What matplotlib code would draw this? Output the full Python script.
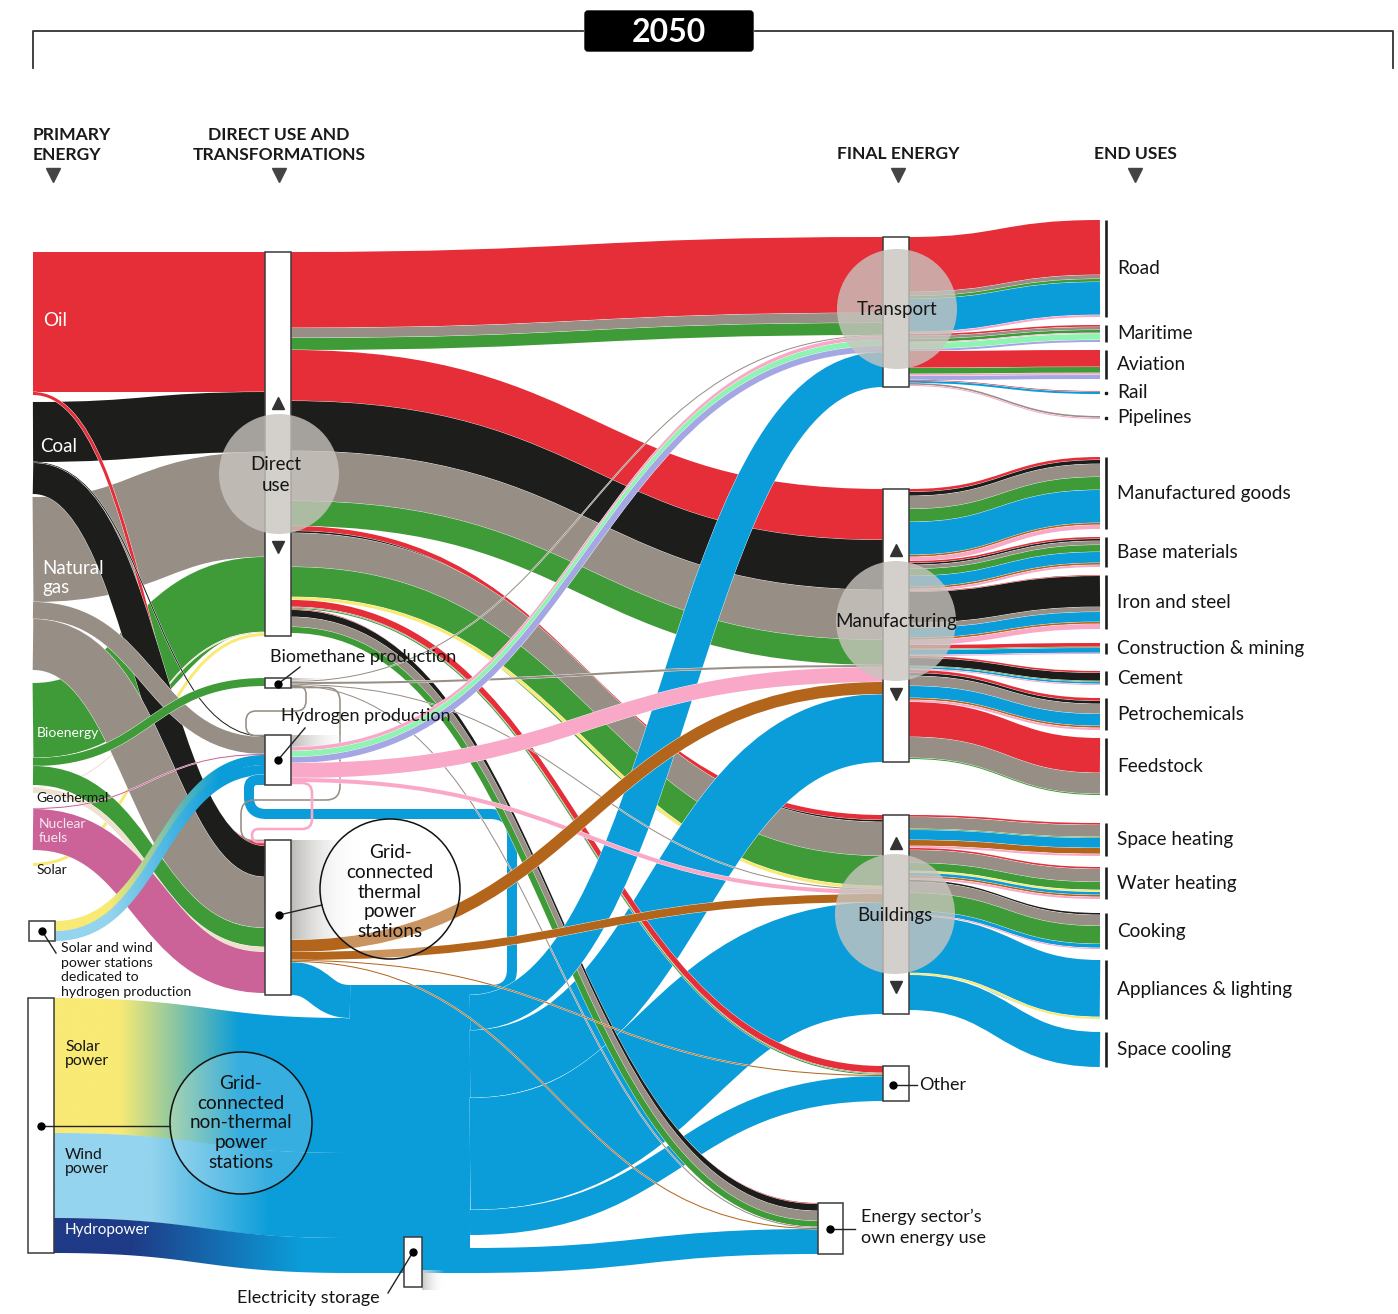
import numpy as np
import matplotlib
matplotlib.use("Agg")
import matplotlib.pyplot as plt
from matplotlib.path import Path
from matplotlib.patches import PathPatch, Polygon, Circle, Rectangle, FancyBboxPatch
from matplotlib.colors import to_rgb
from collections import defaultdict

plt.rcParams['font.family'] = ['Lato', 'DejaVu Sans']

# ---------------- data (band widths in chart units) ----------------
primary_names = ["Oil", "Coal", "Natural gas", "Bioenergy", "Geothermal", "Nuclear fuels", "Solar"]

primary_flows = [
    ("Oil", "Direct use", "oil", 140),
    ("Oil", "Thermal", "oil", 3),
    ("Coal", "Direct use", "coal", 60),
    ("Coal", "Hydrogen", "coal", 1),
    ("Coal", "Thermal", "coal", 31),
    ("Natural gas", "Direct use", "gas", 105),
    ("Natural gas", "Hydrogen", "gas", 17),
    ("Natural gas", "Thermal", "gas", 51),
    ("Bioenergy", "Direct use", "bio", 75),
    ("Bioenergy", "Biomethane", "bio", 8),
    ("Bioenergy", "Thermal", "bio", 19),
    ("Geothermal", "Direct use", "geo", 1),
    ("Geothermal", "Thermal", "geo", 5),
    ("Nuclear fuels", "Hydrogen", "nuclear", 1),
    ("Nuclear fuels", "Thermal", "nuclear", 41),
    ("Solar", "Direct use", "solar", 3),
    ("Dedicated", "Hydrogen", "solar", 10),
    ("Dedicated", "Hydrogen", "wind", 10),
]

direct_flows = [
    ("Direct use", "Transport", "oil", 76),
    ("Direct use", "Transport", "gas", 10),
    ("Direct use", "Transport", "bio", 12),
    ("Direct use", "Manufacturing", "oil", 51),
    ("Direct use", "Manufacturing", "coal", 50),
    ("Direct use", "Manufacturing", "gas", 50),
    ("Direct use", "Manufacturing", "bio", 25),
    ("Direct use", "Buildings", "oil", 5),
    ("Direct use", "Buildings", "coal", 2),
    ("Direct use", "Buildings", "gas", 34),
    ("Direct use", "Buildings", "bio", 30),
    ("Direct use", "Buildings", "solar", 3),
    ("Direct use", "Other", "oil", 7),
    ("Direct use", "Other", "gas", 1),
    ("Direct use", "Other", "bio", 1),
    ("Direct use", "Energy sector", "oil", 1),
    ("Direct use", "Energy sector", "coal", 7),
    ("Direct use", "Energy sector", "gas", 10),
    ("Direct use", "Energy sector", "bio", 6),
]

conversion_flows = [
    ("Biomethane", None, "loss", 3),
    ("Biomethane", "Transport", "gas", 1),
    ("Biomethane", "Manufacturing", "gas", 2),
    ("Biomethane", "Buildings", "gas", 1),
    ("Biomethane", "Energy sector", "gas", 1),
    ("Biomethane", "Hydrogen", "gas", 1),
    ("Biomethane", "Thermal", "gas", 1),
    ("Hydrogen", None, "loss", 12),
    ("Hydrogen", "Transport", "h2", 4),
    ("Hydrogen", "Transport", "nh3", 6),
    ("Hydrogen", "Transport", "efuel", 6),
    ("Hydrogen", "Manufacturing", "h2", 15),
    ("Hydrogen", "Buildings", "h2", 4),
    ("Hydrogen", "Thermal", "h2", 2),
    ("Thermal", None, "loss", 100),
    ("Thermal", "Manufacturing", "heat", 12),
    ("Thermal", "Buildings", "heat", 8),
    ("Thermal", "Other", "heat", 1),
    ("Thermal", "Energy sector", "heat", 1),
    ("Thermal", "Electricity", "elec", 33),
]

power_flows = [
    ("Non-thermal", "Electricity", "solar", 135),
    ("Non-thermal", "Electricity", "wind", 85),
    ("Non-thermal", "Electricity", "hydro", 35),
]

grid_flows = [
    ("Electricity", "Hydrogen", "elec", 10),
    ("Electricity", "Transport", "elec", 35),
    ("Electricity", "Manufacturing", "elec", 68),
    ("Electricity", "Buildings", "elec", 112),
    ("Electricity", "Other", "elec", 25),
    ("Electricity", "Storage", "elec", 13),
    ("Electricity", "Energy sector", "elec", 25),
]

transport_uses = ["Road", "Maritime", "Aviation", "Rail", "Pipelines"]
transport_mix = [
    [("oil", 55), ("gas", 4), ("bio", 3), ("elec", 33), ("h2", 2)],
    [("oil", 2), ("gas", 3), ("bio", 3), ("h2", 1), ("nh3", 6), ("efuel", 2)],
    [("oil", 17), ("bio", 6), ("h2", 2), ("efuel", 4)],
    [("oil", 1), ("elec", 2)],
    [("gas", 2), ("h2", 1)],
]
manufacturing_uses = ["Manufactured goods", "Base materials", "Iron and steel",
                      "Construction & mining", "Cement", "Petrochemicals", "Feedstock"]
manufacturing_mix = [
    [("oil", 3), ("coal", 4), ("gas", 13), ("bio", 13), ("elec", 33), ("heat", 2), ("h2", 4)],
    [("oil", 2), ("coal", 2), ("gas", 4), ("bio", 7), ("elec", 11), ("heat", 2), ("h2", 2)],
    [("oil", 1), ("coal", 31), ("gas", 5), ("elec", 10), ("heat", 2), ("h2", 5)],
    [("oil", 4), ("bio", 1), ("elec", 5), ("h2", 1)],
    [("oil", 2), ("coal", 8), ("bio", 1), ("elec", 2), ("h2", 1)],
    [("oil", 3), ("coal", 3), ("gas", 10), ("elec", 12), ("heat", 2), ("h2", 2)],
    [("oil", 35), ("gas", 21), ("bio", 1)],
]
buildings_uses = ["Space heating", "Water heating", "Cooking", "Appliances & lighting", "Space cooling"]
buildings_mix = [
    [("oil", 2), ("gas", 12), ("bio", 1), ("elec", 10), ("heat", 6), ("h2", 2)],
    [("oil", 2), ("gas", 13), ("bio", 8), ("solar", 2), ("elec", 3), ("heat", 2), ("h2", 2)],
    [("coal", 2), ("gas", 11), ("bio", 18), ("elec", 4), ("h2", 1)],
    [("elec", 57), ("solar", 2)],
    [("elec", 35)],
]

# ---------------- styles and layout ----------------
COL = {"oil": "#e52e38", "coal": "#1d1d1b", "gas": "#978e85", "bio": "#3f9b38",
       "elec": "#0b9dd9", "heat": "#b3661b", "h2": "#f9a8c8", "nh3": "#8ff4b1",
       "efuel": "#a4a7e4", "solar": "#f8ea74", "geo": "#eee1cf", "nuclear": "#cb6399",
       "wind": "#95d4ee", "hydro": "#1f3a86"}

NODE_X = {n: (33, 33) for n in primary_names}
NODE_X.update({"Dedicated": (29, 55), "Non-thermal": (28, 54),
               "Direct use": (265, 291), "Biomethane": (265, 291), "Hydrogen": (265, 291),
               "Thermal": (265, 291), "Electricity": (350, 470), "Storage": (404, 422),
               "Transport": (883, 909), "Manufacturing": (883, 909), "Buildings": (883, 909),
               "Other": (883, 909), "Energy sector": (818, 843)})
NODE_Y = {"Oil": 252, "Coal": 402, "Natural gas": 497, "Bioenergy": 683, "Geothermal": 787,
          "Nuclear fuels": 808, "Solar": 863, "Dedicated": 921, "Non-thermal": 998,
          "Direct use": 252, "Biomethane": 678, "Hydrogen": 735, "Thermal": 840,
          "Electricity": 985, "Storage": 1237, "Transport": 237, "Manufacturing": 489,
          "Buildings": 815, "Other": 1066, "Energy sector": 1203}
END_Y = {"Road": 220, "Maritime": 325, "Aviation": 350, "Rail": 391, "Pipelines": 416,
         "Manufactured goods": 457, "Base materials": 537, "Iron and steel": 575,
         "Construction & mining": 643, "Cement": 671, "Petrochemicals": 698, "Feedstock": 738,
         "Space heating": 823, "Water heating": 867, "Cooking": 913,
         "Appliances & lighting": 960, "Space cooling": 1032}
for u, y in END_Y.items():
    NODE_X[u] = (1100, 1100)
    NODE_Y[u] = y

FIRST_AT_TARGET = {("Hydrogen", "Thermal"), ("Biomethane", "Thermal"), ("Biomethane", "Hydrogen")}
HIDDEN = {("Electricity", "Storage")}
# loop routing: (x of outgoing vertical, y of return run, x of incoming vertical, corner radius)
LOOPS = {("Electricity", "Hydrogen"): (512, 814, 249, 22),
         ("Hydrogen", "Thermal"): (312, 829, 252, 10),
         ("Biomethane", "Hydrogen"): (306, 711, 246, 10),
         ("Biomethane", "Thermal"): (340, 800, 241, 14)}
GRADIENT_X = {("Non-thermal", "solar"): (120, 240), ("Non-thermal", "wind"): (150, 270),
              ("Non-thermal", "hydro"): (130, 300), ("Dedicated", "solar"): (110, 220),
              ("Dedicated", "wind"): (110, 220)}
LOSS_LEN = {"Thermal": 70, "Hydrogen": 60, "Biomethane": 45}

W, H = 1398, 1314
PX = 72.0 / 100

end_flows = []
for src, uses, mixes in [("Transport", transport_uses, transport_mix),
                         ("Manufacturing", manufacturing_uses, manufacturing_mix),
                         ("Buildings", buildings_uses, buildings_mix)]:
    for u, mix in zip(uses, mixes):
        for c, v in mix:
            end_flows.append((src, u, c, v))

flows = primary_flows + direct_flows + conversion_flows + power_flows + grid_flows + end_flows

# ---------------- stacking ----------------
out_pos, in_pos = defaultdict(float), defaultdict(float)
src_y, dst_y = {}, {}
for i, (s, d, c, v) in enumerate(flows):
    src_y[i] = NODE_Y[s] + out_pos[s]
    out_pos[s] += v
order = [i for i, f in enumerate(flows) if (f[0], f[1]) in FIRST_AT_TARGET]
order += [i for i, f in enumerate(flows) if (f[0], f[1]) not in FIRST_AT_TARGET]
for i in order:
    s, d, c, v = flows[i]
    if d is None:
        continue
    dst_y[i] = NODE_Y[d] + in_pos[d]
    in_pos[d] += v


def node_h(n):
    return max(in_pos[n], out_pos[n])


def layer(s, d):
    if s in primary_names:
        return 1 if d == "Direct use" else 2
    if s in ("Dedicated", "Non-thermal"):
        return 2
    if s == "Direct use":
        return 3 if d in ("Transport", "Manufacturing", "Buildings") else 5
    if s == "Electricity":
        return 6 if d == "Transport" else 4
    if s == "Thermal" and d == "Electricity":
        return 4
    if s in ("Hydrogen", "Biomethane", "Thermal"):
        return 7
    return 8


fig = plt.figure(figsize=(W / 100, H / 100), dpi=100)
ax = fig.add_axes([0, 0, 1, 1])
ax.set_xlim(0, W)
ax.set_ylim(H, 0)
ax.axis('off')


def bez_path(x0, y0, x1, y1):
    dx = (x1 - x0) * 0.5
    return Path([(x0, y0), (x0 + dx, y0), (x1 - dx, y1), (x1, y1)],
                [Path.MOVETO, Path.CURVE4, Path.CURVE4, Path.CURVE4])


def bez_band(x0, y0, x1, y1, w, n=120):
    t = np.linspace(0, 1, n)[:, None]
    dx = (x1 - x0) * 0.5
    p0, p1 = np.array([x0, y0]), np.array([x0 + dx, y0])
    p2, p3 = np.array([x1 - dx, y1]), np.array([x1, y1])
    pts = (1 - t) ** 3 * p0 + 3 * (1 - t) ** 2 * t * p1 + 3 * (1 - t) * t ** 2 * p2 + t ** 3 * p3
    dv = 3 * (1 - t) ** 2 * (p1 - p0) + 6 * (1 - t) * t * (p2 - p1) + 3 * t ** 2 * (p3 - p2)
    dv = dv / np.linalg.norm(dv, axis=1)[:, None]
    nrm = np.column_stack([-dv[:, 1], dv[:, 0]])
    return np.vstack([pts + nrm * w / 2, (pts - nrm * w / 2)[::-1]])


def stroke(path, w, color, z, outline=True):
    if outline:
        ax.add_patch(PathPatch(path, fill=False, lw=(w + 0.7) * PX, ec='white',
                               capstyle='butt', joinstyle='round', zorder=z))
    ax.add_patch(PathPatch(path, fill=False, lw=w * PX, ec=color,
                           capstyle='butt', joinstyle='round', zorder=z))


def gradient_fill(poly, xa, xb, c0, c1, z, a0=1.0, a1=1.0):
    patch = Polygon(poly, closed=True, fc='none', ec='none', zorder=z)
    ax.add_patch(patch)
    xmin, ymin = poly.min(axis=0)
    xmax, ymax = poly.max(axis=0)
    xs = np.linspace(xmin, xmax, 400)
    f = np.clip((xs - xa) / (xb - xa), 0, 1)[:, None]
    rgb = (1 - f) * np.array(to_rgb(c0)) + f * np.array(to_rgb(c1))
    alpha = (1 - f) * a0 + f * a1
    img = np.concatenate([rgb, alpha], axis=1)[None, :, :]
    im = ax.imshow(img, extent=(xmin, xmax, ymax, ymin), aspect='auto',
                   interpolation='bilinear', zorder=z)
    im.set_clip_path(patch)


def rounded(pts, r):
    pts = [np.array(p, float) for p in pts]
    verts, codes = [pts[0]], [Path.MOVETO]
    for a, p, b in zip(pts[:-2], pts[1:-1], pts[2:]):
        l1, l2 = np.linalg.norm(p - a), np.linalg.norm(b - p)
        rr = min(r, l1 / 2, l2 / 2)
        verts += [p - (p - a) / l1 * rr, p, p + (b - p) / l2 * rr]
        codes += [Path.LINETO, Path.CURVE3, Path.CURVE3]
    verts.append(pts[-1])
    codes.append(Path.LINETO)
    return Path(verts, codes)


# electricity pool
ax.add_patch(Rectangle((NODE_X["Electricity"][0], NODE_Y["Electricity"]),
                       NODE_X["Electricity"][1] - NODE_X["Electricity"][0],
                       node_h("Electricity"), fc=COL["elec"], ec='none', zorder=4))

for i, (s, d, c, v) in enumerate(flows):
    if (s, d) in HIDDEN:
        continue
    x0 = NODE_X[s][1]
    y0 = src_y[i] + v / 2
    if d is None:
        L = LOSS_LEN[s]
        poly = np.array([(x0, src_y[i]), (x0 + L, src_y[i]), (x0 + L, src_y[i] + v), (x0, src_y[i] + v)])
        gradient_fill(poly, x0, x0 + L, "#bcbab7", "#ffffff", 7, 1.0, 0.0)
        continue
    x1 = NODE_X[d][0]
    y1 = dst_y[i] + v / 2
    z = layer(s, d)
    if (s, d) in LOOPS:
        xo, ym, xb, rad = LOOPS[(s, d)]
        p = rounded([(x0, y0), (xo, y0), (xo, ym), (xb, ym), (xb, y1), (x1, y1)], rad)
        stroke(p, v if v > 3 else v + 0.6, COL[c], z, outline=v > 3)
        continue
    if (s, c) in GRADIENT_X:
        xa, xb = GRADIENT_X[(s, c)]
        gradient_fill(bez_band(x0, y0, x1, y1, v), xa, xb, COL[c], COL["elec"], z)
        continue
    stroke(bez_path(x0, y0, x1, y1), v, COL[c], z)

# ---------------- node boxes ----------------
BOX_EC = "#3a3a3a"
for n in ["Direct use", "Biomethane", "Hydrogen", "Thermal", "Dedicated", "Non-thermal",
          "Transport", "Manufacturing", "Buildings", "Other", "Energy sector"]:
    xl, xr = NODE_X[n]
    ax.add_patch(Rectangle((xl, NODE_Y[n]), xr - xl, node_h(n), fc='white', ec=BOX_EC,
                           lw=1.1, zorder=10))
ax.add_patch(Rectangle((NODE_X["Storage"][0], NODE_Y["Storage"]), 18, 50, fc='white',
                       ec=BOX_EC, lw=1.1, zorder=10))
gradient_fill(np.array([(422, 1270), (445, 1270), (445, 1290), (422, 1290)]), 422, 445,
              "#c8c8c8", "#ffffff", 9, 1.0, 0.0)

# triangles inside the big boxes
for n, (ya, yb) in {"Direct use": (403, 547), "Manufacturing": (550, 694),
                    "Buildings": (843, 987)}.items():
    xc = sum(NODE_X[n]) / 2
    ax.plot([xc], [ya], marker='^', ms=9, color='#333333', zorder=10.5)
    ax.plot([xc], [yb], marker='v', ms=9, color='#333333', zorder=10.5)

# translucent hub circles
for n, (cx, cy) in {"Direct use": (279, 474), "Transport": (897, 309),
                    "Manufacturing": (896, 621), "Buildings": (895, 914)}.items():
    ax.add_patch(Circle((cx, cy), 60, fc='#c8c5bf', ec='none', alpha=0.8, zorder=11))
    label = "Direct\nuse" if n == "Direct use" else n
    ax.text(cx - (3 if n == "Direct use" else 0), cy + 1, label, ha='center', va='center',
            fontsize=13.5, color='#151515', linespacing=1.22, zorder=12)

# outlined power station circles
ax.add_patch(Circle((390, 889), 70, fc=(1, 1, 1, 0.3), ec='#111111', lw=1.1, zorder=11))
ax.text(390, 892, "Grid-\nconnected\nthermal\npower\nstations", ha='center', va='center',
        fontsize=13.6, linespacing=1.2, color='#111111', zorder=12)
ax.add_patch(Circle((241, 1123), 71, fc=(1, 1, 1, 0.18), ec='#111111', lw=1.1, zorder=11))
ax.text(241, 1123, "Grid-\nconnected\nnon-thermal\npower\nstations", ha='center',
        va='center', fontsize=13.6, linespacing=1.2, color='#111111', zorder=12)

# dots and leader lines
for (dx, dy), (lx, ly) in [((278, 684), (300, 667)), ((278, 760), (305, 728)),
                           ((279, 915), (322, 905)), ((42, 931), (56, 953)),
                           ((41, 1126), (170, 1126)), ((413, 1252), (388, 1293)),
                           ((893, 1085), (917, 1085)), ((830, 1229), (855, 1229))]:
    ax.plot([dx, lx], [dy, ly], color='#222222', lw=1, zorder=12)
    ax.plot([dx], [dy], marker='o', ms=5, color='black', zorder=12.5)

# ---------------- end use brackets and labels ----------------
for u, y in END_Y.items():
    h = in_pos[u]
    if h > 4:
        ax.plot([1106, 1106], [y, y + h], color='#1a1a1a', lw=2.6 * PX, solid_capstyle='butt', zorder=10)
    else:
        ax.plot([1106], [y + h / 2], marker='s', ms=2, color='#1a1a1a', zorder=10)
    ax.text(1117, y + h / 2, u, ha='left', va='center', fontsize=13.7, color='#151515', zorder=12)

# ---------------- headers ----------------
ax.plot([33, 33, 583], [68, 31, 31], color='#333333', lw=1.3, zorder=1)
ax.plot([755, 1393, 1393], [31, 31, 68], color='#333333', lw=1.3, zorder=1)
ax.add_patch(FancyBboxPatch((585, 11), 168, 40, boxstyle="round,pad=0,rounding_size=3",
                            fc='black', ec='black', zorder=12))
ax.text(669, 32, "2050", ha='center', va='center', fontsize=23, fontweight='bold',
        color='white', zorder=13)

hdr = dict(fontsize=12.6, fontweight='bold', color='#1a1a1a', linespacing=1.25, va='center')
ax.text(33, 145, "PRIMARY\nENERGY", ha='left', **hdr)
ax.text(279, 145, "DIRECT USE AND\nTRANSFORMATIONS", ha='center', **hdr)
ax.text(898, 154, "FINAL ENERGY", ha='center', **hdr)
ax.text(1135, 154, "END USES", ha='center', **hdr)
for x in [53, 279, 898, 1135]:
    ax.plot([x], [175], marker='v', ms=10, color='#444444', zorder=12)

# ---------------- primary / node labels ----------------
ax.text(43, 320, "Oil", color='white', fontsize=13.5, va='center', zorder=12)
ax.text(40, 447, "Coal", color='white', fontsize=13.5, va='center', zorder=12)
ax.text(42, 578, "Natural\ngas", color='white', fontsize=13.5, va='center',
        linespacing=1.15, zorder=12)
ax.text(37, 733, "Bioenergy", color='white', fontsize=10, va='center', zorder=12)
ax.text(36, 798, "Geothermal", color='#151515', fontsize=10, va='center', zorder=12)
ax.text(39, 831, "Nuclear\nfuels", color='#f6e6ef', fontsize=10, va='center',
        linespacing=1.3, zorder=12)
ax.text(37, 870, "Solar", color='#151515', fontsize=10, va='center', zorder=12)
ax.text(61, 970, "Solar and wind\npower stations\ndedicated to\nhydrogen production",
        color='#151515', fontsize=10.2, va='center', linespacing=1.28, zorder=12)
ax.text(65, 1054, "Solar\npower", color='#151515', fontsize=11.3, va='center',
        linespacing=1.05, zorder=12)
ax.text(65, 1162, "Wind\npower", color='#151515', fontsize=11.3, va='center',
        linespacing=1.05, zorder=12)
ax.text(65, 1230, "Hydropower", color='white', fontsize=11, va='center', zorder=12)

lab = dict(fontsize=13, color='#151515', va='center', zorder=12)
ax.text(270, 657, "Biomethane production", **lab)
ax.text(281, 716, "Hydrogen production", **lab)
ax.text(237, 1298, "Electricity storage", **lab)
ax.text(919, 1085, "Other", **lab)
ax.text(861, 1227, "Energy sector\u2019s\nown energy use", linespacing=1.4, **lab)

ax.set_xlim(0, W)
ax.set_ylim(H, 0)
fig.savefig("out.png", dpi=100)
